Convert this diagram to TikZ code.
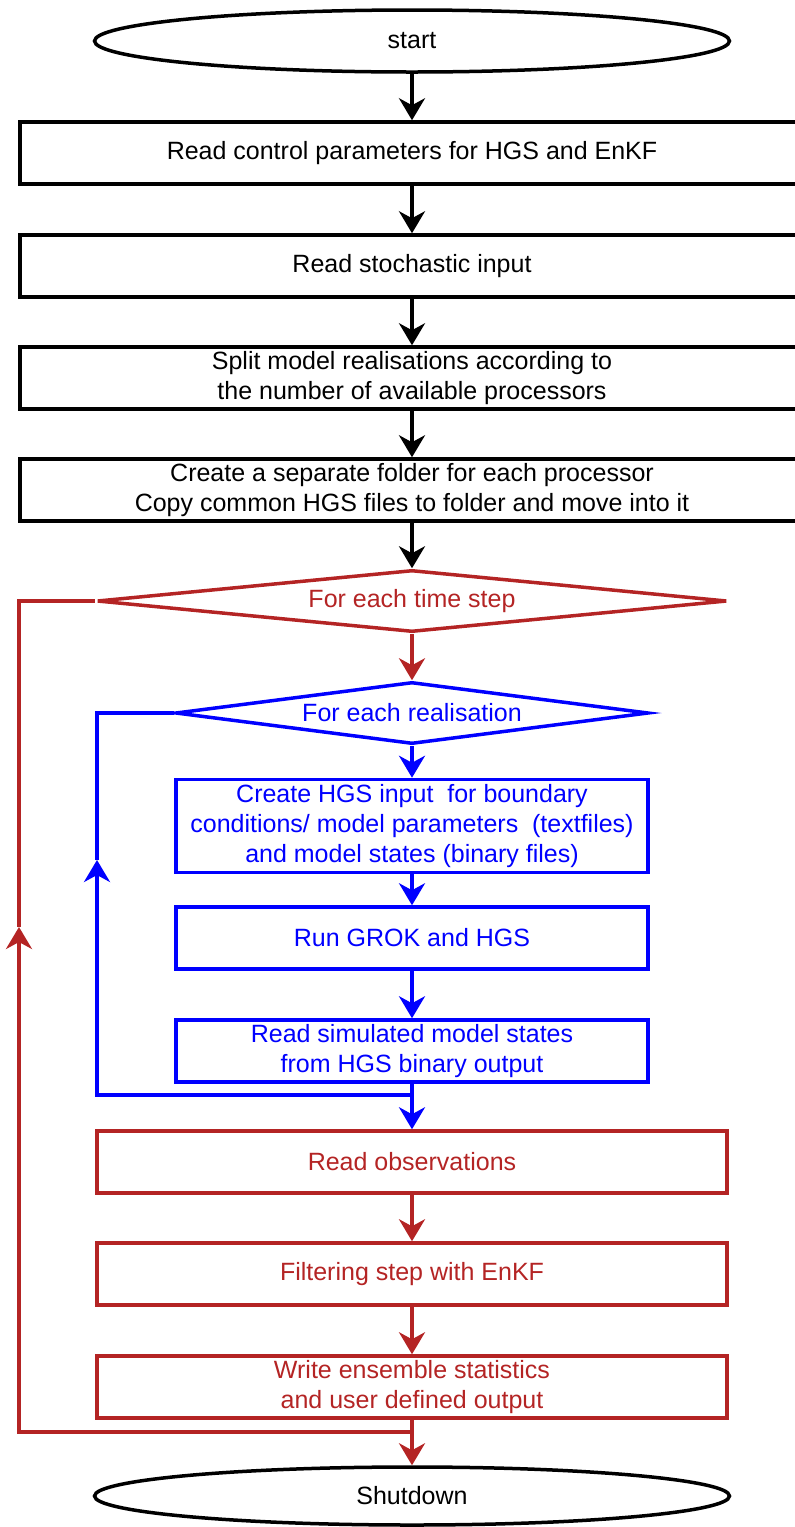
\documentclass[tikz,border=0pt]{standalone}
\usepackage{fontspec}
\setmainfont{Liberation Sans}
\usetikzlibrary{arrows.meta,shapes.geometric}
\definecolor{steprd}{RGB}{180,36,36}
\definecolor{realbl}{RGB}{0,0,255}

\begin{document}
\begin{tikzpicture}[
  x=1pt, y=-1pt,
  line width=3.5pt,
  every node/.style={font=\fontsize{25}{30}\selectfont},
  tnode/.style={draw,ellipse,minimum width=635pt,minimum height=62pt,inner sep=0pt},
  bnode/.style={draw,rectangle,minimum width=784pt,minimum height=62pt,inner sep=0pt,align=center},
  rnode/.style={draw=steprd,text=steprd,rectangle,minimum width=630pt,minimum height=62pt,inner sep=0pt,align=center},
  lnode/.style={draw=realbl,text=realbl,rectangle,minimum width=472pt,minimum height=62pt,inner sep=0pt,align=center},
  dnode/.style={draw,diamond,aspect=10,minimum height=62pt,inner sep=0pt},
  flow/.style={-{Stealth[length=22pt,width=26pt,inset=7pt]}}
]
  \useasboundingbox (0,0) rectangle (795,1527);

  % terminals
  \node[tnode] (start) at (412,41) {start};
  \node[tnode,minimum height=58pt] (shut) at (412,1496) {Shutdown};

  % setup
  \node[bnode] (ctrl) at (412,153) {Read control parameters for HGS and EnKF};
  \node[bnode] (stoch) at (412,266) {Read stochastic input};
  \node[bnode] (split) at (412,378) {Split model realisations according to\\the number of available processors};
  \node[bnode] (fold) at (412,490) {Create a separate folder for each processor\\Copy common HGS files to folder and move into it};

  % time loop
  \node[dnode,draw=steprd,text=steprd,minimum width=630pt] (tstep) at (412,601) {For each time step};
  \node[rnode] (obs) at (412,1162) {Read observations};
  \node[rnode] (filt) at (412,1274) {Filtering step with EnKF};
  \node[rnode] (wrt) at (412,1387) {Write ensemble statistics\\and user defined output};

  % realisation loop
  \node[dnode,draw=realbl,text=realbl,minimum width=473pt] (real) at (412,713) {For each realisation};
  \node[lnode,minimum height=93pt] (inp) at (412,826) {Create HGS input\ \ for boundary\\conditions/ model parameters\ \ (textfiles)\\and model states (binary files)};
  \node[lnode] (run) at (412,938) {Run GROK and HGS};
  \node[lnode] (sim) at (412,1051) {Read simulated model states\\from HGS binary output};

  % loop corners
  \coordinate (bj) at (412,1095);
  \coordinate (bl1) at (97,1095);
  \coordinate (bl2) at (97,860);
  \coordinate (bl3) at (97,713);
  \coordinate (rj) at (412,1432);
  \coordinate (rl1) at (19,1432);
  \coordinate (rl2) at (19,927);
  \coordinate (rl3) at (19,601);

  % edges
  \draw[flow] (start) edge (ctrl);
  \draw[flow] (ctrl) edge (stoch);
  \draw[flow] (stoch) edge (split);
  \draw[flow] (split) edge (fold);
  \draw[flow] (fold) edge (tstep);
  \draw[flow,steprd] (tstep) edge (real);
  \draw[flow,realbl] (real) edge (inp);
  \draw[flow,realbl] (inp) edge (run);
  \draw[flow,realbl] (run) edge (sim);
  \draw[flow,realbl] (sim) edge (obs);
  \draw[flow,steprd] (obs) edge (filt);
  \draw[flow,steprd] (filt) edge (wrt);
  \draw[flow,steprd] (wrt) edge (shut);

  % back loops
  \draw[flow,realbl] (bj) -- (bl1) -- (bl2);
  \draw[realbl] (bl2) -- (bl3) -- (real.west);
  \draw[flow,steprd] (rj) -- (rl1) -- (rl2);
  \draw[steprd] (rl2) -- (rl3) -- (tstep.west);
\end{tikzpicture}
\end{document}
